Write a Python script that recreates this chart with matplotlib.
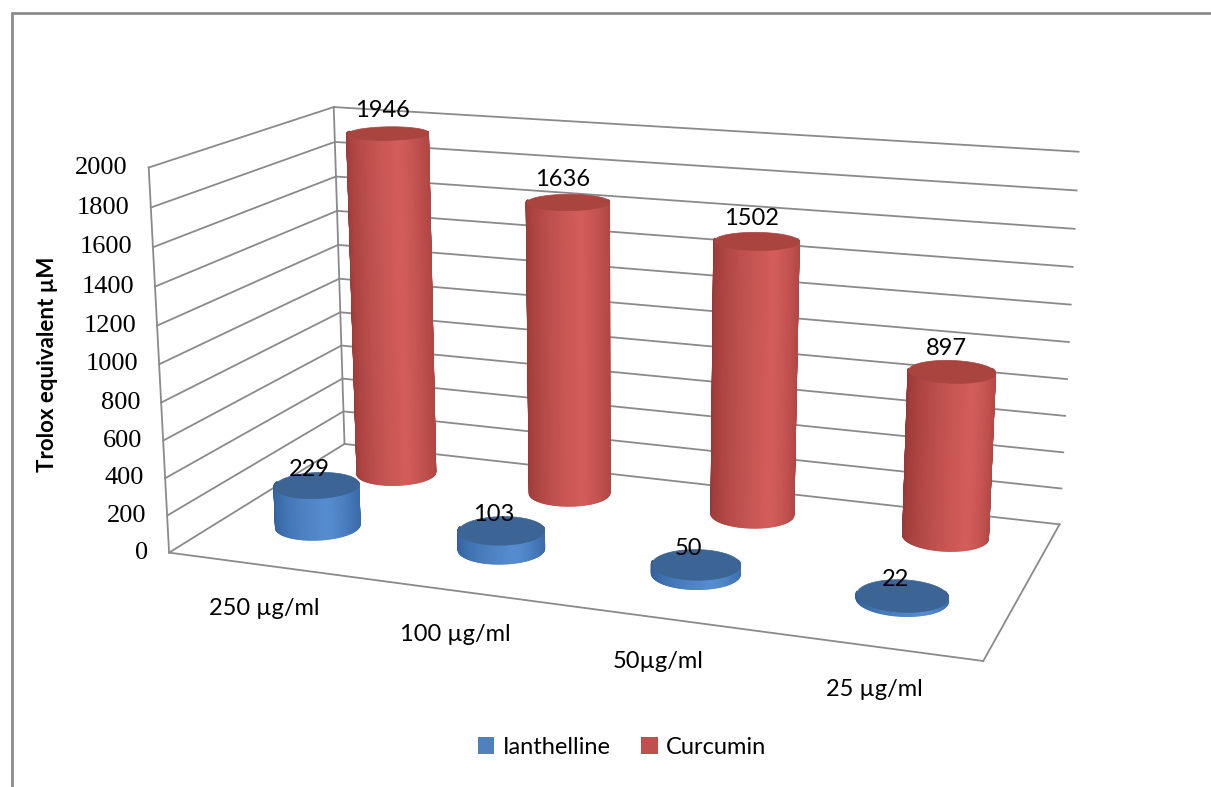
import numpy as np
import matplotlib
matplotlib.use("Agg")
import matplotlib.pyplot as plt
from matplotlib.colors import to_rgb
from matplotlib.patches import Patch, Rectangle
from matplotlib.transforms import offset_copy
from mpl_toolkits.mplot3d.art3d import Poly3DCollection

categories = ["250 µg/ml", "100 µg/ml", "50µg/ml", "25 µg/ml"]
ianthelline = [229, 103, 50, 22]
curcumin = [1946, 1636, 1502, 897]
series_names = ["Ianthelline", "Curcumin"]
z_ticks = list(range(0, 2001, 200))

# scene geometry (category units)
ELEV, AZIM = 15, -70
X0, X1 = -0.5, 3.5
Y0, Y1 = -0.6, 1.3
ZMAX = 2000
RADIUS = 0.21
ROW_GAP = 0.92

W_PX, H_PX = 1211, 787
fig = plt.figure(figsize=(W_PX / 100, H_PX / 100), dpi=100)

S = 965             # side of the (square) 3d axes in px
CX, CY = 609, 366   # its centre, px from top-left
ax = fig.add_axes([(CX - S / 2) / W_PX, (H_PX - CY - S / 2) / H_PX, S / W_PX, S / H_PX],
                  projection="3d", proj_type="persp", focal_length=0.45,
                  computed_zorder=False)
ax.set_xlim(X0, X1)
ax.set_ylim(Y0, Y1)
ax.set_zlim(0, ZMAX)
ax.set_box_aspect((X1 - X0, Y1 - Y0, 1.9))
ax.view_init(elev=ELEV, azim=AZIM)
ax.set_axis_off()

# walls: gridlines on the left and back walls, floor outline
grid_kw = dict(color="#8a8a8a", lw=1.3, zorder=1)
for z in z_ticks:
    ax.plot([X0, X0], [Y0, Y1], [z, z], **grid_kw)
    ax.plot([X0, X1], [Y1, Y1], [z, z], **grid_kw)
ax.plot([X0, X0], [Y0, Y0], [0, ZMAX], **grid_kw)
ax.plot([X0, X0], [Y1, Y1], [0, ZMAX], **grid_kw)
ax.plot([X0, X1], [Y0, Y0], [0, 0], **grid_kw)
ax.plot([X1, X1], [Y0, Y1], [0, 0], **grid_kw)

az = np.radians(AZIM)
screen_right = np.array([-np.sin(az), np.cos(az)])
toward_eye = np.array([np.cos(az), np.sin(az)])
theta = np.linspace(0, 2 * np.pi, 181)


def side_color(t, dark, light, edge):
    dark, light, edge = map(np.array, (to_rgb(dark), to_rgb(light), to_rgb(edge)))
    if t < 0.3:
        f = ((t + 1) / 1.3) ** 0.6
        return dark + (light - dark) * f
    f = ((t - 0.3) / 0.7) ** 1.5
    return light + (edge - light) * f


def cylinder(xc, yc, h, colors, zorder):
    dark, light, edge, top = colors
    quads, fcs = [], []
    for a, b in zip(theta[:-1], theta[1:]):
        m = 0.5 * (a + b)
        n = np.array([np.cos(m), np.sin(m)])
        if n @ toward_eye < -0.25:
            continue  # hidden back side
        xa, ya = xc + RADIUS * np.cos(a), yc + RADIUS * np.sin(a)
        xb, yb = xc + RADIUS * np.cos(b), yc + RADIUS * np.sin(b)
        quads.append([(xa, ya, 0), (xb, yb, 0), (xb, yb, h), (xa, ya, h)])
        fcs.append(side_color(n @ screen_right, dark, light, edge))
    side = Poly3DCollection(quads, facecolors=fcs, edgecolors=fcs, linewidths=1.0)
    side.set_zorder(zorder)
    ax.add_collection3d(side)
    disc = [(xc + RADIUS * np.cos(a), yc + RADIUS * np.sin(a), h) for a in theta]
    cap = Poly3DCollection([disc], facecolors=top, edgecolors=top, linewidths=0.5)
    cap.set_zorder(zorder + 0.5)
    ax.add_collection3d(cap)


red = ("#993836", "#d35d5a", "#b04643", "#a9443f")
blue = ("#2f5d98", "#558dd0", "#3b6cab", "#3c6494")

text_font = ["Lato", "DejaVu Sans"]
back_tr = offset_copy(ax.transData, x=-5, y=12, units="dots")
front_tr = offset_copy(ax.transData, x=-7, y=5, units="dots")
for i, v in enumerate(curcumin):
    cylinder(i, ROW_GAP, v, red, 2 + i * 0.01)
    ax.text(i, ROW_GAP, v, str(v), ha="center", va="bottom", fontsize=17,
            family=text_font, transform=back_tr, zorder=10)
for i, v in enumerate(ianthelline):
    cylinder(i, 0, v, blue, 4 + i * 0.01)
    ax.text(i, 0, v, str(v), ha="center", va="bottom", fontsize=17,
            family=text_font, transform=front_tr, zorder=10)

# value axis labels along the front-left edge
tick_tr = offset_copy(ax.transData, x=-21, y=0, units="dots")
for z in z_ticks:
    ax.text(X0, Y0, z, str(z), ha="right", va="center", fontsize=19,
            family="Liberation Serif", transform=tick_tr)

# category labels under the front edge of the floor
cat_tr = offset_copy(ax.transData, x=4, y=-44, units="dots")
for i, c in enumerate(categories):
    ax.text(i, Y0, 0, c, ha="center", va="center", fontsize=17,
            family=text_font, transform=cat_tr)

fig.text(48 / W_PX, 1 - 364 / H_PX, "Trolox equivalent µM", rotation=90,
         ha="center", va="center", fontsize=16, fontweight="bold", family=text_font)

handles = [Patch(facecolor="#4f81bd"), Patch(facecolor="#c0504d")]
fig.legend(handles, series_names, loc="center", ncol=2, frameon=False,
           bbox_to_anchor=(622 / W_PX, 1 - 747 / H_PX),
           handlelength=0.7, handleheight=0.7, handletextpad=0.35,
           columnspacing=1.3, prop={"family": text_font, "size": 17})

fig.add_artist(Rectangle((12 / W_PX, -0.1), 1.2, 1.1 - 13 / H_PX,
                         transform=fig.transFigure, fill=False,
                         edgecolor="#8c8c8c", lw=2))

fig.savefig("out.png", dpi=100)
